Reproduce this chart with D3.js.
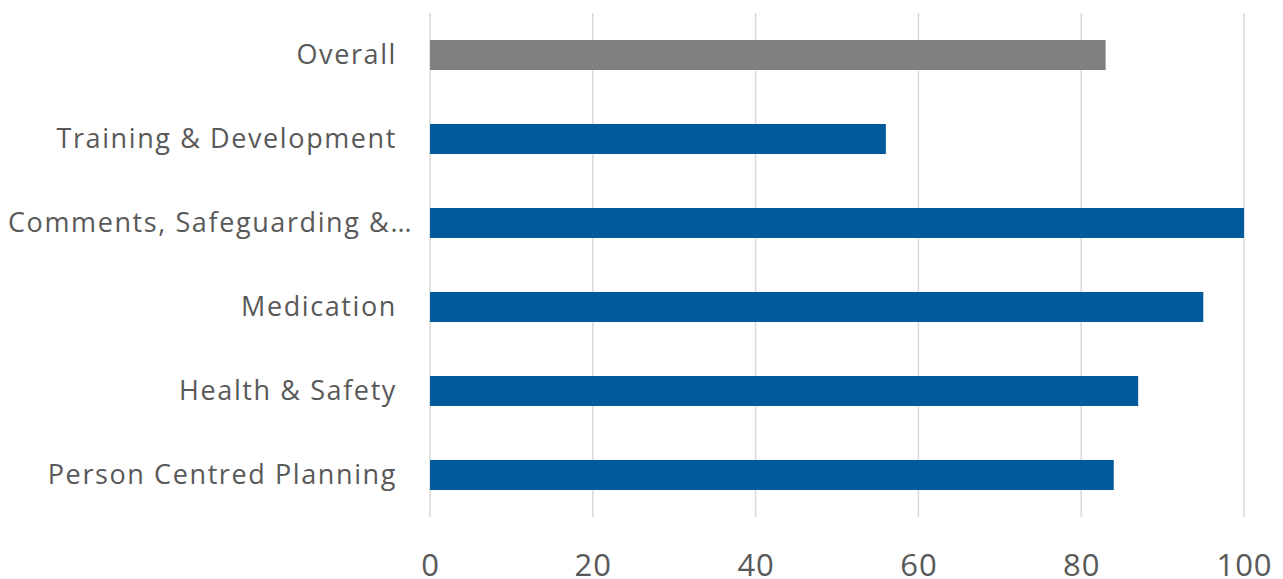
<!DOCTYPE html>
<html><head><meta charset="utf-8">
<script src="https://cdn.jsdelivr.net/npm/d3@7"></script>
<style>body{margin:0;background:#fff}svg{display:block}</style>
</head><body><div id="chart"></div>
<script>
const categories = ["Overall","Training & Development","Comments, Safeguarding &…","Medication","Health & Safety","Person Centred Planning"];
const values = [83,56,100,95,87,84];
const barColors = ["#808080","#005A9C","#005A9C","#005A9C","#005A9C","#005A9C"];
const ticks = [0,20,40,60,80,100];

const W=1283,H=579;
const svg=d3.select("#chart").append("svg").attr("width",W).attr("height",H);
const x=d3.scaleLinear().domain([0,100]).range([430,1244]);
const y=d3.scaleBand().domain(categories).range([13,517]).paddingInner(0.643).paddingOuter(0.3215);

svg.append("g").selectAll("line").data(ticks).join("line")
 .attr("x1",d=>x(d)).attr("x2",d=>x(d)).attr("y1",13).attr("y2",517)
 .attr("stroke","#d9d9d9").attr("stroke-width",1.5);

svg.append("g").selectAll("rect").data(categories).join("rect")
 .attr("x",x(0)).attr("y",d=>y(d)).attr("height",y.bandwidth())
 .attr("width",(d,i)=>x(values[i])-x(0)).attr("fill",(d,i)=>barColors[i]);

const xAxis=d3.axisBottom(x).tickValues(ticks).tickSize(0).tickPadding(0);
const gx=svg.append("g").attr("transform","translate(0,554)").call(xAxis);
gx.select(".domain").remove();
gx.selectAll("text").attr("font-family","'Open Sans', sans-serif").attr("font-size",31).attr("fill","#595959").attr("dy","0.72em").attr("letter-spacing",1);

const yAxis=d3.axisLeft(y).tickSize(0).tickPadding(0);
const gy=svg.append("g").attr("transform","translate(397,0)").call(yAxis);
gy.select(".domain").remove();
gy.selectAll("text").attr("font-family","'Open Sans', sans-serif").attr("font-size",27).attr("fill","#595959")
 .attr("letter-spacing",1.6)
 .attr("x",d=>d.endsWith("…")?16:0);
</script></body></html>
